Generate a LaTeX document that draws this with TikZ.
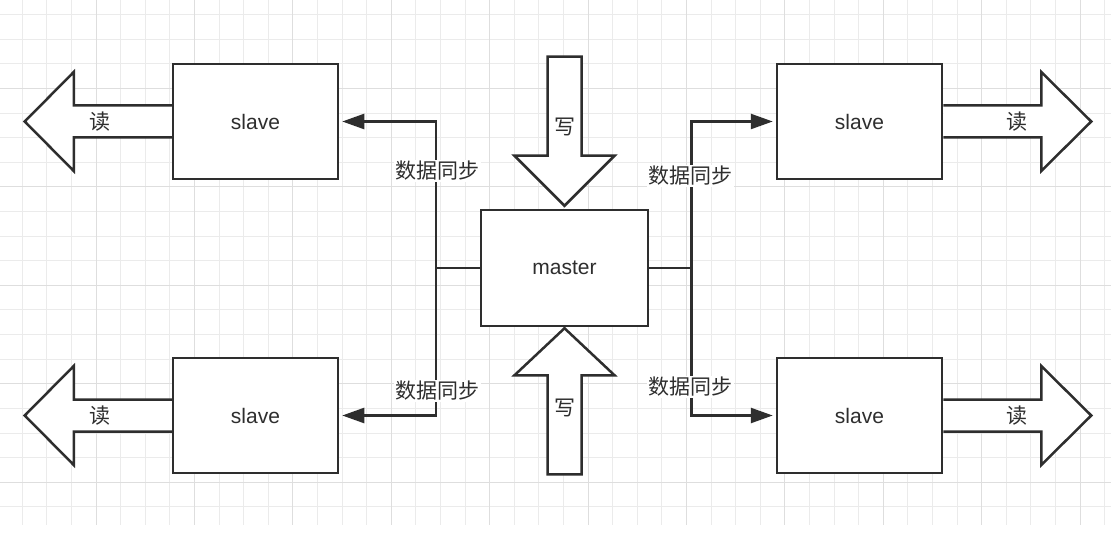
\documentclass[tikz,border=0pt]{standalone}
\usepackage{fontspec}
\setmainfont{Liberation Sans}
\newfontfamily\cjk{Noto Sans CJK SC}
\usetikzlibrary{arrows.meta,calc}
\definecolor{ink}{HTML}{2E2E2E}
\definecolor{gridminor}{HTML}{EBEBEB}
\definecolor{gridmajor}{HTML}{DEDEDE}
\begin{document}
\begin{tikzpicture}[x=1pt,y=-1pt,
  box/.style={draw=ink, line width=2.5pt, fill=white, minimum width=165pt, minimum height=115pt,
    inner sep=0pt, font=\fontsize{21}{25}\selectfont, text=ink},
  bigarrow/.style={draw=ink, line width=2.5pt, fill=white, line join=miter},
  lbl/.style={font=\cjk\fontsize{21}{24}\selectfont, text=ink, inner sep=0pt},
  synclbl/.style={lbl, fill=white, inner sep=1.5pt},
  sync/.style={draw=ink, line width=2.5pt, -{Triangle[length=22pt,width=15pt]}, shorten >=3pt},
  gridthin/.style={draw=gridminor, line width=1pt},
  gridthick/.style={draw=gridmajor, line width=1pt},
]
\useasboundingbox (0,0) rectangle (1111,545);
\fill[white] (0,0) rectangle (1111,545);
\begin{scope}
  \clip (0,0) rectangle (1111,525);
  \foreach \k in {0,...,44} \draw[gridthin] ({22.2+24.6*\k},0) -- ({22.2+24.6*\k},525);
  \foreach \k in {0,...,21} \draw[gridthin] (0,{14.8+24.6*\k}) -- (1111,{14.8+24.6*\k});
  \foreach \k in {3,7,...,43} \draw[gridthick] ({22.2+24.6*\k},0) -- ({22.2+24.6*\k},525);
  \foreach \k in {3,7,...,19} \draw[gridthick] (0,{14.8+24.6*\k}) -- (1111,{14.8+24.6*\k});
\end{scope}

% boxes
\node[box] (sl1) at (255.5,121.5) {slave};
\node[box] (sl2) at (255.5,415.5) {slave};
\node[box] (sr1) at (859.5,121.5) {slave};
\node[box] (sr2) at (859.5,415.5) {slave};
\node[box, minimum width=167pt, minimum height=116pt] (m) at (564.5,268) {master};

% read arrows (left)
\draw[bigarrow] (sl1.west) ++(0,-16) -- ++(-98,0) -- ++(0,-33.5) -- ++(-49,49.5) -- ++(49,49.5) -- ++(0,-33.5) -- ++(98,0);
\draw[bigarrow] (sl2.west) ++(0,-16) -- ++(-98,0) -- ++(0,-33.5) -- ++(-49,49.5) -- ++(49,49.5) -- ++(0,-33.5) -- ++(98,0);
% read arrows (right)
\draw[bigarrow] (sr1.east) ++(0,-16) -- ++(98,0) -- ++(0,-33.5) -- ++(50,49.5) -- ++(-50,49.5) -- ++(0,-33.5) -- ++(-98,0);
\draw[bigarrow] (sr2.east) ++(0,-16) -- ++(98,0) -- ++(0,-33.5) -- ++(50,49.5) -- ++(-50,49.5) -- ++(0,-33.5) -- ++(-98,0);

% write arrows
\draw[bigarrow] ($(m.north)+(-17,-152)$) -- ++(0,99) -- ++(-33,0) -- ++(50,50) -- ++(50,-50) -- ++(-33,0) -- ++(0,-99) -- cycle;
\draw[bigarrow] ($(m.south)+(0,1)$) -- ++(50,47) -- ++(-33,0) -- ++(0,99) -- ++(-34,0) -- ++(0,-99) -- ++(-33,0) -- cycle;

% labels on block arrows
\node[lbl] (rl1) at (100,122) {读};
\node[lbl] (rl2) at (100,416) {读};
\node[lbl] (rr1) at (1017,122) {读};
\node[lbl] (rr2) at (1017,416) {读};
\node[lbl] (w1) at (564.5,127) {写};
\node[lbl] (w2) at (564.5,408) {写};

% sync connectors
\draw[sync] (m.west) -- ++(-44,0) coordinate (jl) |- (sl1.east);
\draw[sync] (jl) |- (sl2.east);
\draw[sync] (m.east) -- ++(42,0) coordinate (jr) |- (sr1.west);
\draw[sync] (jr) |- (sr2.west);

\node[synclbl] (s1) at (437,171) {数据同步};
\node[synclbl] (s2) at (437,391) {数据同步};
\node[synclbl] (s3) at (690,176) {数据同步};
\node[synclbl] (s4) at (690,387) {数据同步};
\end{tikzpicture}
\end{document}
